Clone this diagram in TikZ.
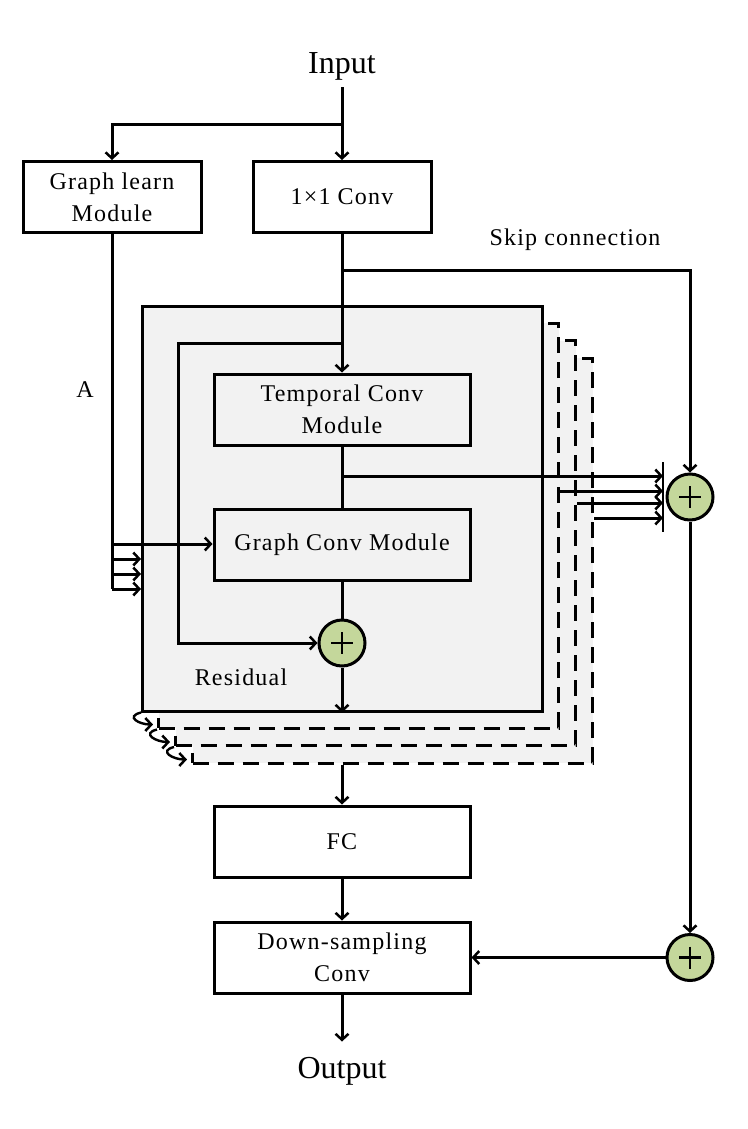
\documentclass[tikz,border=0pt]{standalone}
\usepackage{fontspec}
\setmainfont{Liberation Serif}[LetterSpace=5]
\newfontfamily\iofont{Liberation Serif}
\usetikzlibrary{arrows.meta,calc}
\definecolor{addgreen}{RGB}{196,215,155}
\definecolor{panelgray}{RGB}{242,242,242}

\begin{document}
\begin{tikzpicture}[x=1pt,y=-1pt,line width=3pt,
  >={Straight Barb[length=6pt,width=13pt,line width=2.5pt]},
  every node/.style={font=\fontsize{24}{32}\selectfont},
  modbox/.style={draw,minimum height=71pt,align=center,inner sep=0pt},
  layer/.style={draw,fill=panelgray,minimum width=400pt,minimum height=405pt,inner sep=0pt},
  ghost/.style={layer,dash pattern=on 16pt off 9pt},
  addop/.style={draw,circle,fill=addgreen,minimum size=46pt,inner sep=0pt,
    path picture={\draw[line width=2.2pt] (path picture bounding box.center)
      +(-11,0) -- +(11,0) +(0,-11) -- +(0,11);}},
  iotext/.style={font=\iofont\fontsize{32}{36}\selectfont}
  ]
  \useasboundingbox (0,0) rectangle (747,1129);

  % stacked layers, back to front
  \node[ghost] (layer4) at (392.5,560.5) {};
  \node[ghost] (layer3) at (375.5,543) {};
  \node[ghost] (layer2) at (358.5,525.5) {};
  \node[layer] (layer1) at (342.5,508.5) {};

  \node[iotext,inner sep=6pt] (in) at (342,66) {Input};
  \node[modbox,minimum width=178pt] (glm) at (112,197) {Graph learn\\Module};
  \node[modbox,minimum width=178pt] (conv) at (342,197) {1×1 Conv};
  \node[modbox,minimum width=256pt] (tcm) at (342,409.5) {Temporal Conv\\Module};
  \node[modbox,minimum width=256pt] (gcm) at (342,544.5) {Graph Conv Module};
  \node[addop] (res) at (342,643) {};
  \node (reslbl) at (241,677) {Residual};
  \node (albl) at (85,390) {A};
  \node (skiplbl) at (575,240) {Skip connection};
  \node[addop] (skipadd) at (690,497) {};
  \node[addop] (outadd) at (690,957.5) {};
  \node[modbox,minimum width=256pt] (fc) at (342,841.5) {FC};
  \node[modbox,minimum width=256pt] (down) at (342,957.5) {Down-sampling\\Conv};
  \node[iotext,inner sep=14pt] (out) at (342,1071) {Output};

  % input split
  \coordinate (split) at (342,125);
  \draw[->] (in.south) -- (conv.north);
  \draw[->] (split) -| (glm.north);

  % main path, residual and skip
  \coordinate (skipfork) at (342,270);
  \coordinate (resfork) at (342,343);
  \coordinate (resturn) at (178,343);
  \draw[->] (conv.south) -- (tcm.north);
  \draw[->] (skipfork) -| (skipadd.north);
  \draw[->] (resfork) -- (resturn) |- (res.west);
  \draw (tcm.south) -- (gcm.north);
  \draw (gcm.south) -- (res.north);
  \draw[->] (res.south) -- (res.south |- layer1.south);

  % skip outputs of every layer
  \coordinate (tap) at (342,476);
  \coordinate (bartop) at (663,462);
  \coordinate (barbot) at (663,532);
  \coordinate (sk2) at (663,491);
  \coordinate (sk3) at (663,503);
  \coordinate (sk4) at (663,518);
  \draw[line width=2.2pt] (bartop) -- (barbot);
  \draw[->] (tap) -- (bartop |- tap);
  \draw[->] (layer2.east |- sk2) -- (sk2);
  \draw[->] (layer3.east |- sk3) -- (sk3);
  \draw[->] (layer4.east |- sk4) -- (sk4);

  % adjacency A into every layer
  \coordinate (a1) at (112,544);
  \coordinate (a2) at (112,559);
  \coordinate (a3) at (112,574);
  \coordinate (a4) at (112,589);
  \draw (glm.south) -- (a4);
  \draw[->] (a1) -- (gcm.west |- a1);
  \draw[->] (a2) -- (layer1.west |- a2);
  \draw[->] (a3) -- (layer1.west |- a3);
  \draw[->] (a4) -- (layer1.west |- a4);

  % layer to layer hooks
  \draw[->,line width=2.4pt] (layer1.south west) .. controls +(-16,4) and +(-14,0) .. ([shift={(-4,-5)}]layer2.south west);
  \draw[->,line width=2.4pt] (layer2.south west) .. controls +(-16,4) and +(-14,0) .. ([shift={(-4,-5)}]layer3.south west);
  \draw[->,line width=2.4pt] (layer3.south west) .. controls +(-16,4) and +(-14,0) .. ([shift={(-4,-5)}]layer4.south west);

  % output path
  \draw[->] (fc.north |- layer4.south) -- (fc.north);
  \draw[->] (fc) -- (down);
  \draw[->] (down.south) -- (out.north);
  \draw[->] (skipadd.south) -- (outadd.north);
  \draw[->] (outadd.west) -- (down.east);

\end{tikzpicture}
\end{document}
